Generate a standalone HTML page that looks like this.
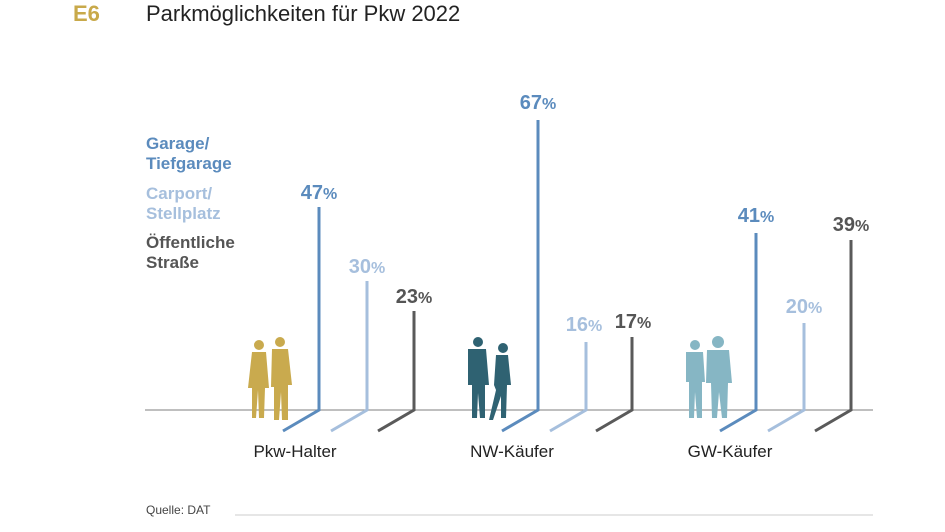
<!DOCTYPE html>
<html><head><meta charset="utf-8"><style>
body{margin:0;background:#fff;}
svg{display:block;font-family:"Liberation Sans",sans-serif;}
.b{font-weight:bold;font-size:20px;text-anchor:middle}
.b tspan{font-size:16px}
</style></head><body>
<svg width="945" height="532" viewBox="0 0 945 532">
<text x="73" y="21" font-size="22" font-weight="bold" fill="#c8a94a">E6</text>
<text x="146" y="21" font-size="22" fill="#222">Parkmöglichkeiten für Pkw 2022</text>
<g font-size="17" font-weight="bold">
<text x="146" y="149" fill="#5b8bbd">Garage/</text>
<text x="146" y="169" fill="#5b8bbd">Tiefgarage</text>
<text x="146" y="199" fill="#a6bfdd">Carport/</text>
<text x="146" y="219" fill="#a6bfdd">Stellplatz</text>
<text x="146" y="248" fill="#555">Öffentliche</text>
<text x="146" y="268" fill="#555">Straße</text>
</g>
<line x1="145" y1="410" x2="873" y2="410" stroke="#999" stroke-width="1.2"/>
<g fill="none" stroke-width="3">
<polyline points="283,431 319,410 319,207" stroke="#5b8bbd"/>
<polyline points="331,431 367,410 367,281" stroke="#a6bfdd"/>
<polyline points="378,431 414,410 414,311" stroke="#5a5a5a"/>
<polyline points="502,431 538,410 538,120" stroke="#5b8bbd"/>
<polyline points="550,431 586,410 586,342" stroke="#a6bfdd"/>
<polyline points="596,431 632,410 632,337" stroke="#5a5a5a"/>
<polyline points="720,431 756,410 756,233" stroke="#5b8bbd"/>
<polyline points="768,431 804,410 804,323" stroke="#a6bfdd"/>
<polyline points="815,431 851,410 851,240" stroke="#5a5a5a"/>
</g>
<text class="b" x="319" y="199" fill="#5b8bbd">47<tspan>%</tspan></text>
<text class="b" x="367" y="273" fill="#a6bfdd">30<tspan>%</tspan></text>
<text class="b" x="414" y="303" fill="#555">23<tspan>%</tspan></text>
<text class="b" x="538" y="109" fill="#5b8bbd">67<tspan>%</tspan></text>
<text class="b" x="584" y="331" fill="#a6bfdd">16<tspan>%</tspan></text>
<text class="b" x="633" y="328" fill="#555">17<tspan>%</tspan></text>
<text class="b" x="756" y="222" fill="#5b8bbd">41<tspan>%</tspan></text>
<text class="b" x="804" y="313" fill="#a6bfdd">20<tspan>%</tspan></text>
<text class="b" x="851" y="231" fill="#555">39<tspan>%</tspan></text>
<g fill="#c9aa4e">
<circle cx="259" cy="345" r="5"/><path d="M252 352h14l3 36h-4l-1 30h-5l-1-28-2 28h-4l0-30h-4z"/>
<circle cx="280" cy="342" r="5"/><path d="M272 349h16l4 36h-4v35h-6l-1-28-2 28h-5v-33h-3z"/>
</g>
<g fill="#2f6272">
<circle cx="478" cy="342" r="5"/><path d="M468 349h18l3 36h-4v33h-5l-2-25-1 25h-5v-33h-4z"/>
<circle cx="503" cy="348" r="5"/><path d="M496 355h12l3 30h-4l-1 33h-5l0-22-8 24h-4l7-30-2-5z"/>
</g>
<g fill="#86b6c4">
<circle cx="695" cy="345" r="5"/><path d="M686 352h17l2 30h-3v36h-5l-2-26-1 26h-5v-36h-3z"/>
<circle cx="718" cy="342" r="6"/><path d="M707 350h22l3 33h-4l-1 35h-5l-3-26-2 26h-5l-1-35h-5z"/>
</g>
<g font-size="17" fill="#222" text-anchor="middle">
<text x="295" y="457">Pkw-Halter</text>
<text x="512" y="457">NW-Käufer</text>
<text x="730" y="457">GW-Käufer</text>
</g>
<text x="146" y="514" font-size="12" fill="#444">Quelle: DAT</text>
<line x1="235" y1="515" x2="873" y2="515" stroke="#ccc" stroke-width="1"/>
</svg>
</body></html>
